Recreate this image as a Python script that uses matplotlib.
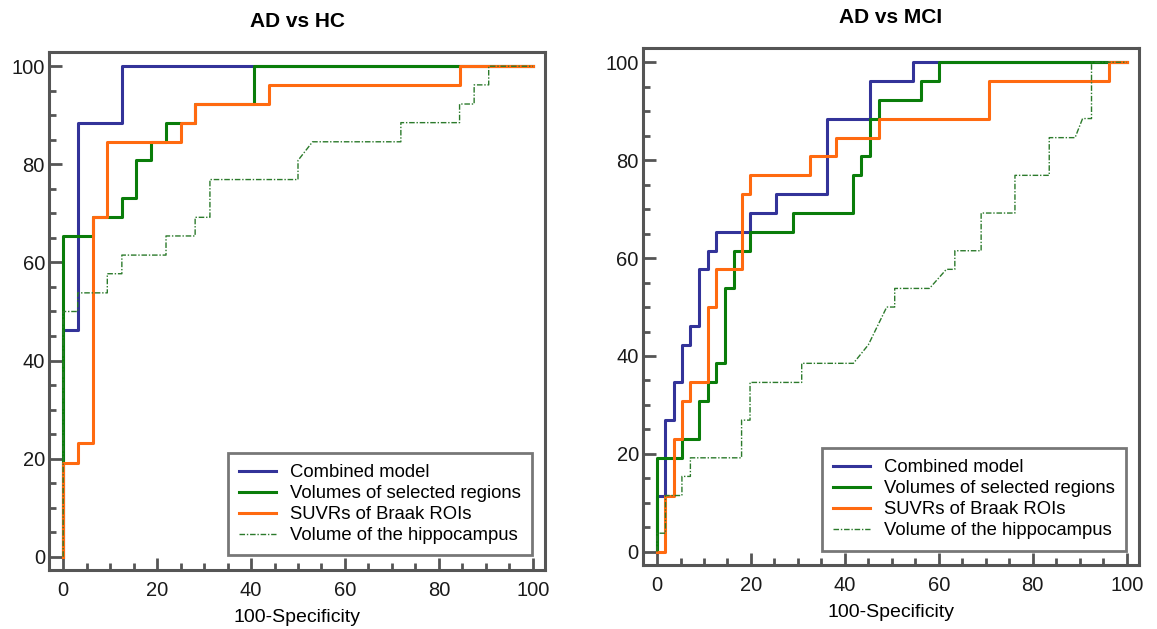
import matplotlib.pyplot as plt
from matplotlib.ticker import MultipleLocator

plt.rcParams["font.family"] = ["Liberation Sans", "DejaVu Sans"]

# ROC operating points (100-Specificity, Sensitivity) -- AD vs HC
hc_comb_x = [0, 0, 3.1, 12.5, 100]
hc_comb_y = [0, 46.2, 88.5, 100, 100]
hc_vol_x = [0, 0, 6.25, 12.5, 15.6, 18.75, 21.9, 28.1, 40.6, 100]
hc_vol_y = [0, 65.4, 69.2, 73.1, 80.8, 84.6, 88.5, 92.3, 100, 100]
hc_suvr_x = [0, 0, 3.1, 6.25, 9.4, 25, 28.1, 43.75, 84.4, 100]
hc_suvr_y = [0, 19.2, 23.1, 69.2, 84.6, 88.5, 92.3, 96.2, 100, 100]
# hippocampus curve has tied values, so keep the full polyline
hc_hip_x = [0, 0, 3.1, 3.1, 9.4, 9.4, 12.5, 12.5, 21.9, 21.9, 28.1, 28.1, 31.25, 31.25,
            50, 50, 53.1, 71.9, 71.9, 84.4, 84.4, 87.5, 87.5, 90.6, 90.6, 100]
hc_hip_y = [0, 50, 50, 53.8, 53.8, 57.7, 57.7, 61.5, 61.5, 65.4, 65.4, 69.2, 69.2, 76.9,
            76.9, 80.8, 84.6, 84.6, 88.5, 88.5, 92.3, 92.3, 96.2, 96.2, 100, 100]

# AD vs MCI
mci_comb_x = [0, 0, 1.8, 3.6, 5.3, 7.1, 9.0, 10.8, 12.6, 19.8, 25.3, 36.2, 45.3, 54.5, 100]
mci_comb_y = [0, 11.5, 26.9, 34.6, 42.3, 46.2, 57.7, 61.5, 65.4, 69.2, 73.1, 88.5, 96.2, 100, 100]
mci_vol_x = [0, 0, 5.3, 9.0, 10.8, 12.6, 14.4, 16.3, 19.8, 29.0, 41.8, 43.5, 45.3, 47.3, 56.3, 60.1, 100]
mci_vol_y = [0, 19.2, 23.1, 30.8, 34.6, 38.5, 53.8, 61.5, 65.4, 69.2, 76.9, 80.8, 88.5, 92.3, 96.2, 100, 100]
mci_suvr_x = [0, 1.8, 3.6, 5.3, 7.1, 10.8, 12.6, 18.0, 19.8, 32.5, 38.0, 47.3, 70.7, 96.3, 100]
mci_suvr_y = [0, 11.5, 23.1, 30.8, 34.6, 50.0, 57.7, 73.1, 76.9, 80.8, 84.6, 88.5, 96.2, 100, 100]
mci_hip_x = [0, 0, 1.8, 1.8, 5.3, 5.3, 7.1, 7.1, 18.0, 18.0, 19.8, 19.8, 30.8, 30.8, 41.8, 45.0,
             48.9, 50.6, 50.6, 58.0, 61.6, 63.4, 63.4, 69.0, 69.0, 76.2, 76.2, 83.5, 83.5,
             89.0, 90.6, 92.5, 92.5, 100]
mci_hip_y = [0, 3.8, 3.8, 11.5, 11.5, 15.4, 15.4, 19.2, 19.2, 26.9, 26.9, 34.6, 34.6, 38.5, 38.5, 42.3,
             50.0, 50.0, 53.8, 53.8, 57.7, 57.7, 61.5, 61.5, 69.2, 69.2, 76.9, 76.9, 84.6,
             84.6, 88.5, 88.5, 100, 100]

labels = ["Combined model", "Volumes of selected regions", "SUVRs of Braak ROIs",
          "Volume of the hippocampus"]
c_blue = "#333399"
c_green = "#0a7d0a"
c_orange = "#ff6a10"
c_hip = "#2b7a2b"
c_frame = "#555555"

fig = plt.figure(figsize=(11.57, 6.29), dpi=100)
ax1 = fig.add_axes([0.0424, 0.0938, 0.4287, 0.8235])
ax2 = fig.add_axes([0.5557, 0.1017, 0.4287, 0.8219])

panels = [
    (ax1, "AD vs HC", hc_comb_x, hc_comb_y, hc_vol_x, hc_vol_y, hc_suvr_x, hc_suvr_y, hc_hip_x, hc_hip_y),
    (ax2, "AD vs MCI", mci_comb_x, mci_comb_y, mci_vol_x, mci_vol_y, mci_suvr_x, mci_suvr_y, mci_hip_x, mci_hip_y),
]

for ax, title, cx, cy, vx, vy, sx, sy, hx, hy in panels:
    ax.plot(cx, cy, drawstyle="steps-post", color=c_blue, lw=2.2, label=labels[0], zorder=2)
    ax.plot(vx, vy, drawstyle="steps-post", color=c_green, lw=2.2, label=labels[1], zorder=3)
    ax.plot(sx, sy, drawstyle="steps-post", color=c_orange, lw=2.2, label=labels[2], zorder=4)
    ax.plot(hx, hy, color=c_hip, lw=1.0, dashes=(4, 1.3, 1, 1.3), label=labels[3], zorder=5)

    ax.set_xlim(-3, 102.6)
    ax.set_ylim(-2.7, 102.9)
    ax.xaxis.set_major_locator(MultipleLocator(20))
    ax.xaxis.set_minor_locator(MultipleLocator(5))
    ax.yaxis.set_major_locator(MultipleLocator(20))
    ax.yaxis.set_minor_locator(MultipleLocator(5))
    ax.tick_params(which="both", direction="in", color=c_frame, width=2)
    ax.tick_params(which="major", length=9, labelsize=14.5, colors=c_frame, labelcolor="#1a1a1a")
    ax.tick_params(which="minor", length=5)
    ax.tick_params(axis="x", which="major", pad=8)
    ax.tick_params(axis="y", which="major", pad=3)
    for sp in ax.spines.values():
        sp.set_color(c_frame)
        sp.set_linewidth(2.2)

    ax.set_title(title, fontsize=15, fontweight="bold", pad=18)
    ax.set_xlabel("100-Specificity", fontsize=14)
    ax.xaxis.set_label_coords(0.5, -0.075)

    leg = ax.legend(loc="lower right", bbox_to_anchor=(0.974, 0.028), fontsize=13.3,
                    frameon=True, fancybox=False, edgecolor=c_frame, handlelength=2.0,
                    handletextpad=0.75, labelspacing=0.22, borderpad=0.6, borderaxespad=0)
    leg.get_frame().set_linewidth(2)
    leg.set_zorder(10)

fig.savefig("out.png", dpi=100)
